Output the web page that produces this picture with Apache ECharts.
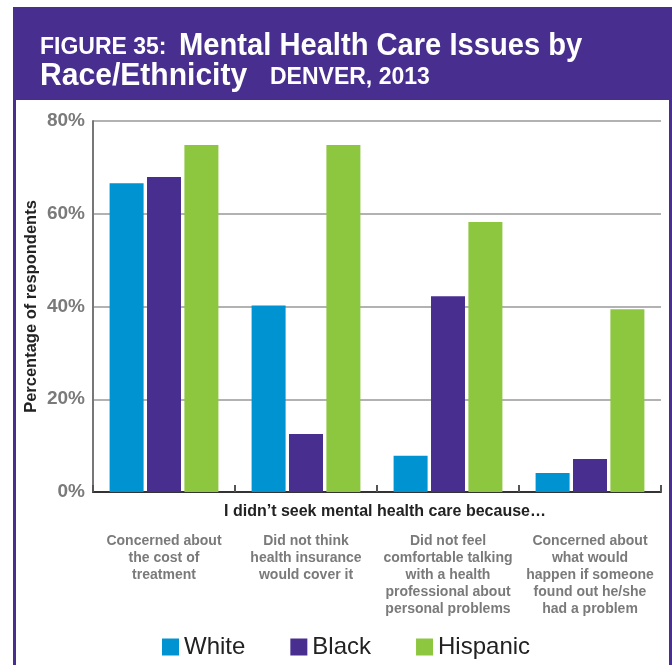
<!DOCTYPE html>
<html>
<head>
<meta charset="utf-8">
<script src="https://cdn.jsdelivr.net/npm/echarts@6/dist/echarts.min.js"></script>
<style>
html,body{margin:0;padding:0;background:#fff;}
#c{width:672px;height:665px;}
</style>
</head>
<body>
<div id="c"></div>
<script>
var categories = [
  'Concerned about\nthe cost of\ntreatment',
  'Did not think\nhealth insurance\nwould cover it',
  'Did not feel\ncomfortable talking\nwith a health\nprofessional about\npersonal problems',
  'Concerned about\nwhat would\nhappen if someone\nfound out he/she\nhad a problem'
];
var seriesNames = ['White', 'Black', 'Hispanic'];
var white = [66.6, 40.2, 7.8, 4.1];
var black = [67.9, 12.5, 42.2, 7.1];
var hispanic = [74.8, 74.8, 58.2, 39.4];
var yTicks = [0, 20, 40, 60, 80];

var PURPLE = '#482f8f';
var FONT = '"Liberation Sans", Arial, sans-serif';
function titleText(txt, x, y, size, sx) {
  return {
    type: 'text', x: x, y: y, scaleX: sx, silent: true, z: 10,
    style: {text: txt, x: 0, y: 0, fill: '#fff', fontFamily: FONT, fontWeight: 'bold', fontSize: size, verticalAlign: 'middle', align: 'left'}
  };
}
var chart = echarts.init(document.getElementById('c'), null, {renderer: 'canvas'});
var option = {
  backgroundColor: '#fff',
  animation: false,
  graphic: [
    {type: 'rect', shape: {x: 13, y: 7, width: 659, height: 93}, style: {fill: PURPLE}, silent: true, z: 0},
    {type: 'rect', shape: {x: 13, y: 7, width: 3, height: 658}, style: {fill: PURPLE}, silent: true, z: 0},
    {type: 'rect', shape: {x: 669, y: 7, width: 3, height: 658}, style: {fill: PURPLE}, silent: true, z: 0},
    titleText('FIGURE 35:', 40, 48, 23, 1.0),
    titleText('Mental Health Care Issues by', 179, 46, 31, 0.94),
    titleText('Race/Ethnicity', 40, 76, 31, 0.97),
    titleText('DENVER, 2013', 270, 78, 23, 1.0)
  ],
  legend: {
    left: 157,
    top: 630,
    icon: 'rect',
    itemWidth: 17,
    itemHeight: 17,
    itemGap: 45,
    textStyle: {fontFamily: FONT, fontSize: 24, color: '#222'},
    data: seriesNames
  },
  grid: {left: 93, right: 11, top: 121, bottom: 173, containLabel: false},
  xAxis: {
    type: 'category',
    data: categories,
    boundaryGap: true,
    name: 'I didn\u2019t seek mental health care because\u2026',
    nameLocation: 'middle',
    nameGap: 12,
    nameMoveOverlap: false,
    nameTextStyle: {fontFamily: FONT, fontWeight: 'bold', fontSize: 16, color: '#222', verticalAlign: 'top', padding: [0, 0, 0, 16]},
    axisLine: {show: true, lineStyle: {color: '#333', width: 2}},
    axisTick: {show: true, inside: true, length: 7, lineStyle: {color: '#555', width: 2}},
    axisLabel: {
      interval: 0,
      margin: 41,
      fontFamily: FONT,
      fontWeight: 'bold',
      fontSize: 14,
      lineHeight: 17,
      color: '#7a7a7a',
      verticalAlign: 'top'
    },
    splitLine: {show: false}
  },
  yAxis: {
    type: 'value',
    min: yTicks[0],
    max: yTicks[yTicks.length - 1],
    interval: 20,
    name: 'Percentage of respondents',
    nameLocation: 'middle',
    nameGap: 53,
    nameMoveOverlap: false,
    nameTextStyle: {fontFamily: FONT, fontWeight: 'bold', fontSize: 16.5, color: '#222'},
    axisLine: {show: true, lineStyle: {color: '#777', width: 2}},
    axisTick: {show: false},
    axisLabel: {
      formatter: '{value}%',
      margin: 8,
      fontFamily: FONT,
      fontWeight: 'bold',
      fontSize: 19,
      color: '#7a7a7a',
      padding: [5, 0, 0, 0]
    },
    splitLine: {show: true, lineStyle: {color: '#999', width: 1.5}}
  },
  series: [
    {name: seriesNames[0], type: 'bar', data: white, barWidth: 34, barGap: '10%', itemStyle: {color: '#0093d1'}},
    {name: seriesNames[1], type: 'bar', data: black, barWidth: 34, barGap: '10%', itemStyle: {color: PURPLE}},
    {name: seriesNames[2], type: 'bar', data: hispanic, barWidth: 34, barGap: '10%', itemStyle: {color: '#8dc63f'}}
  ]
};
chart.setOption(option);
</script>
</body>
</html>
